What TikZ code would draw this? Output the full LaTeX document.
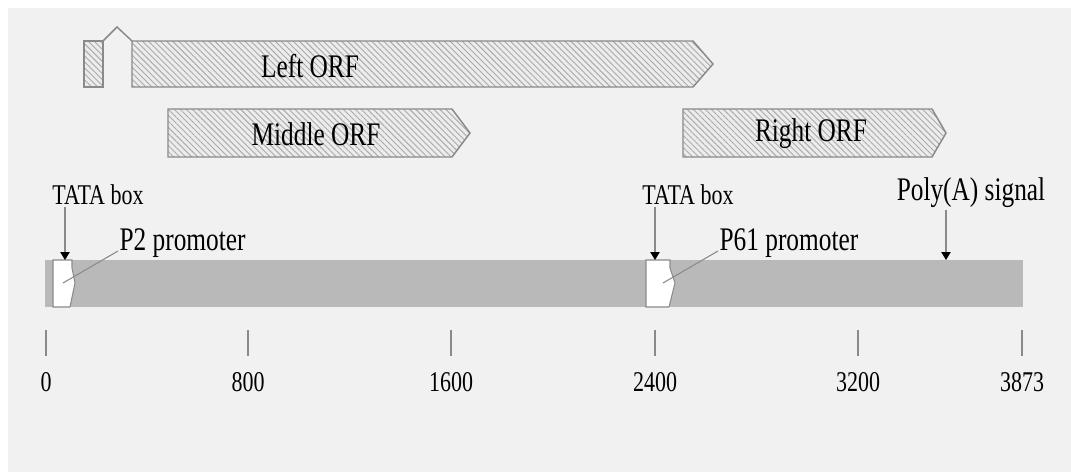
\documentclass[tikz,border=0pt]{standalone}
\usepackage{fontspec}
\setmainfont{Liberation Serif}
\usepackage{graphicx}
\usetikzlibrary{arrows.meta, patterns.meta, positioning}
\definecolor{bgcol}{RGB}{241,241,241}
\definecolor{barcol}{RGB}{185,185,185}
\definecolor{edgecol}{RGB}{138,138,138}
\definecolor{hatchbg}{RGB}{236,236,236}
\definecolor{hatchcol}{RGB}{170,170,170}
\newcommand{\vtxt}[1]{\scalebox{1}[1.3]{#1}}

\begin{document}
\begin{tikzpicture}[x=0.75pt,y=0.75pt,yscale=-1,xscale=1,
    orf/.style={draw=edgecol, line width=1.1pt, preaction={fill=hatchbg},
      pattern={Lines[angle=-45, distance=3.2pt, line width=0.7pt]}, pattern color=hatchcol},
    lbl/.style={font=\fontsize{19}{22}\selectfont, inner sep=1pt},
    small/.style={font=\fontsize{16.5}{19}\selectfont, inner sep=1pt},
    pointer/.style={draw=edgecol, line width=1pt, -{Triangle[black,width=7pt,length=6pt]}},
    leader/.style={draw=edgecol, line width=0.8pt},
    promo/.style={draw=edgecol, line width=0.8pt, fill=white}]
\useasboundingbox (0,0) rectangle (1071,472);
%Background
\fill[white] (0,0) rectangle (1071,472);
\fill[bgcol] (8,8) rectangle (1071,472);

%Left ORF
\draw[orf] (84,41) rectangle (103,87);
\draw[edgecol, line width=1.1pt] (103,41) -- (117,27) -- (132,41);
\draw[orf] (132,41) -- (693,41) -- (713,64) -- (693,87) -- (132,87) -- cycle;
\node[lbl] (leftorf) at (310,66) {\vtxt{Left ORF}};
%Middle ORF
\draw[orf] (168,109) -- (452,109) -- (470,133) -- (452,157) -- (168,157) -- cycle;
\node[lbl] (midorf) at (316,134) {\vtxt{Middle ORF}};
%Right ORF
\draw[orf] (683,109) -- (932,109) -- (946,133) -- (932,157) -- (683,157) -- cycle;
\node[lbl] (rightorf) at (811,134) {\vtxt{Right ORF}};

%Genome bar
\fill[barcol] (45,260) rectangle (1023,307);
%Promoters
\draw[promo] (53,260) -- (72,260) -- (72,268) -- (75,283) -- (70,307) -- (53,307) -- cycle;
\draw[promo] (646,260) -- (670,260) -- (670,268) -- (675,283) -- (669,307) -- (646,307) -- cycle;
\coordinate (p2in) at (63,283);
\coordinate (p61in) at (663,283);
\coordinate (tss1) at (65,260);
\coordinate (tss2) at (655,260);
\coordinate (polya) at (946,260);

%Labels above the bar
\node[small] (tata1) at (98,195) {\vtxt{TATA box}};
\node[small] (tata2) at (688,195) {\vtxt{TATA box}};
\node[lbl] (polylbl) at (971,193) {\vtxt{Poly(A) signal}};
\node[lbl, anchor=west] (p2lbl) at (118,243) {\vtxt{P2 promoter}};
\node[lbl, anchor=west] (p61lbl) at (718,243) {\vtxt{P61 promoter}};

\draw[pointer] (tata1.south -| tss1) -- (tss1);
\draw[pointer] (tata2.south -| tss2) -- (tss2);
\draw[pointer] (polylbl.south -| polya) -- (polya);
\draw[leader] (p2in) -- ([yshift=6pt]p2lbl.west);
\draw[leader] (p61in) -- ([yshift=6pt]p61lbl.west);

%Scale
\foreach \x/\v in {46/0, 248/800, 451/1600, 655/2400, 858/3200, 1022/3873} {
  \coordinate (t\v) at (\x,330);
  \draw[edgecol, line width=0.9pt] (t\v) -- ++(0,26);
  \node[small] (n\v) at (\x,382) {\vtxt{\v}};
}
\end{tikzpicture}
\end{document}
